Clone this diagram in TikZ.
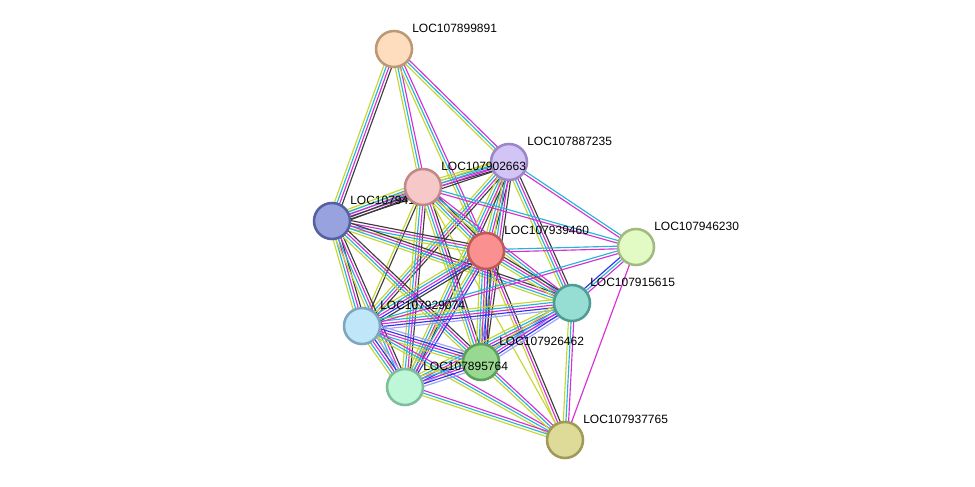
\documentclass[tikz,border=0pt]{standalone}
\usepackage{fontspec}
\setmainfont{Liberation Sans}
\usepackage{tikz}
\usetikzlibrary{calc}
\definecolor{txt}{RGB}{199,214,46}
\definecolor{db}{RGB}{35,182,214}
\definecolor{exp}{RGB}{214,46,216}
\definecolor{coex}{RGB}{60,60,60}
\definecolor{cooc}{RGB}{50,50,238}
\definecolor{hom}{RGB}{160,160,248}
\pgfdeclarelayer{paper}
\pgfdeclarelayer{edges}
\pgfsetlayers{paper,edges,main}
\def\gap{2.0}
% one parallel line per evidence channel
\newcommand{\bundle}[3]{%
  \foreach \col [count=\i] in {#3}{\xdef\nlines{\i}}
  \foreach \col [count=\i] in {#3}{
    \pgfmathsetmacro\off{(\i-(\nlines+1)/2)*\gap}
    \draw[edge, color=\col] ($(#1)!\off pt!90:(#2)$) -- ($(#2)!\off pt!-90:(#1)$);
  }}

\begin{document}
\begin{tikzpicture}[x=0.75pt, y=-0.75pt,
  prot/.style={circle, draw, line width=1.9pt, minimum size=27pt, inner sep=0pt},
  lbl/.style={anchor=west, font=\fontsize{9}{10}\selectfont, inner sep=0pt},
  edge/.style={line width=0.85pt}]
	\begin{pgfonlayer}{paper}
	\fill[white] (0,0) rectangle (975,486);
	\end{pgfonlayer}
	\useasboundingbox (0,0) rectangle (975,486);
	% proteins
	\node[prot, fill={rgb,255:red,253;green,221;blue,190}, draw={rgb,255:red,187;green,153;blue,119}] (A) at (394,49) {};
	\node[lbl] (lA) at ($(A)+(18,-21)$) {LOC107899891};
	\node[prot, fill={rgb,255:red,152;green,162;blue,222}, draw={rgb,255:red,85;green,96;blue,160}] (D) at (332,221) {};
	\node[lbl] (lD) at ($(D)+(18,-21)$) {LOC107941753};
	\node[prot, fill={rgb,255:red,210;green,196;blue,244}, draw={rgb,255:red,156;green,134;blue,200}] (B) at (509,162) {};
	\node[lbl] (lB) at ($(B)+(18,-21)$) {LOC107887235};
	\node[prot, fill={rgb,255:red,246;green,200;blue,200}, draw={rgb,255:red,192;green,136;blue,136}] (C) at (423,187) {};
	\node[lbl] (lC) at ($(C)+(18,-21)$) {LOC107902663};
	\node[prot, fill={rgb,255:red,251;green,144;blue,144}, draw={rgb,255:red,192;green,88;blue,88}] (E) at (486,251) {};
	\node[lbl] (lE) at ($(E)+(18,-21)$) {LOC107939460};
	\node[prot, fill={rgb,255:red,226;green,251;blue,196}, draw={rgb,255:red,160;green,186;blue,128}] (F) at (636,247) {};
	\node[lbl] (lF) at ($(F)+(18,-21)$) {LOC107946230};
	\node[prot, fill={rgb,255:red,150;green,221;blue,212}, draw={rgb,255:red,78;green,156;blue,148}] (G) at (572,303) {};
	\node[lbl] (lG) at ($(G)+(18,-21)$) {LOC107915615};
	\node[prot, fill={rgb,255:red,192;green,230;blue,250}, draw={rgb,255:red,127;green,166;blue,190}] (H) at (362,326) {};
	\node[lbl] (lH) at ($(H)+(18,-21)$) {LOC107929074};
	\node[prot, fill={rgb,255:red,152;green,216;blue,144}, draw={rgb,255:red,92;green,160;blue,90}] (I) at (481,362) {};
	\node[lbl] (lI) at ($(I)+(18,-21)$) {LOC107926462};
	\node[prot, fill={rgb,255:red,190;green,247;blue,216}, draw={rgb,255:red,126;green,188;blue,154}] (J) at (405,387) {};
	\node[lbl] (lJ) at ($(J)+(18,-21)$) {LOC107895764};
	\node[prot, fill={rgb,255:red,222;green,218;blue,152}, draw={rgb,255:red,160;green,154;blue,88}] (K) at (565,440) {};
	\node[lbl] (lK) at ($(K)+(18,-21)$) {LOC107937765};
	% interactions
	\begin{pgfonlayer}{edges}
	\bundle{A}{D}{txt,db,exp,coex}
	\bundle{A}{C}{txt,db,exp}
	\bundle{A}{E}{txt,db,exp}
	\bundle{A}{B}{txt,db,exp}
	\bundle{B}{C}{txt,db,exp,coex}
	\bundle{B}{D}{txt,db,exp,coex}
	\bundle{B}{E}{txt,db,exp,coex}
	\bundle{B}{G}{txt,db,exp,coex}
	\bundle{B}{F}{exp,db}
	\bundle{B}{H}{txt,db,exp,coex}
	\bundle{B}{J}{txt,db,exp,coex}
	\bundle{B}{I}{txt,db,exp,coex}
	\bundle{C}{D}{txt,db,exp,coex,coex}
	\bundle{C}{E}{txt,db,exp,coex}
	\bundle{C}{G}{txt,db,exp}
	\bundle{C}{F}{exp,db}
	\bundle{C}{H}{txt,coex}
	\bundle{C}{J}{txt,db,exp,coex}
	\bundle{C}{I}{txt,db,exp,coex}
	\bundle{C}{K}{txt}
	\bundle{D}{E}{txt,db,exp,coex}
	\bundle{D}{G}{txt,db,exp,coex}
	\bundle{D}{H}{txt,db,exp,coex}
	\bundle{D}{J}{txt,db,exp,coex}
	\bundle{D}{I}{txt,db,exp,coex}
	\bundle{E}{G}{txt,db,exp,coex}
	\bundle{E}{F}{exp,db}
	\bundle{E}{H}{txt,db,exp,cooc,coex}
	\bundle{E}{J}{txt,db,exp,cooc}
	\bundle{E}{I}{txt,db,exp,cooc,coex}
	\bundle{E}{K}{txt,exp,coex}
	\bundle{G}{H}{txt,db,exp,cooc,hom}
	\bundle{G}{J}{txt,db,exp,cooc,hom}
	\bundle{G}{I}{txt,db,exp,cooc,hom}
	\bundle{G}{K}{txt,db,exp}
	\bundle{G}{F}{exp,db,cooc}
	\bundle{H}{J}{txt,db,exp,cooc,hom}
	\bundle{H}{I}{txt,db,exp,cooc,hom}
	\bundle{H}{K}{txt,db,exp}
	\bundle{H}{F}{exp,db}
	\bundle{I}{J}{txt,db,exp,cooc,hom}
	\bundle{I}{K}{txt,db,exp}
	\bundle{J}{K}{txt,db,exp}
	\bundle{F}{K}{exp}
	\end{pgfonlayer}
\end{tikzpicture}
\end{document}
